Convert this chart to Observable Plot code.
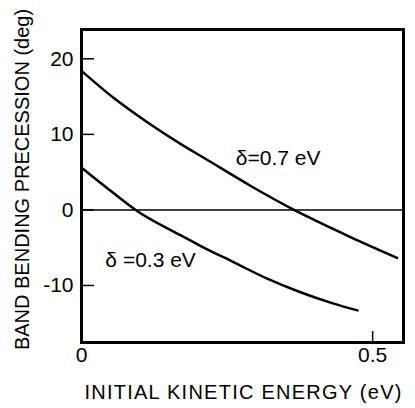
<!DOCTYPE html>
<html>
<head>
<meta charset="utf-8">
<script src="https://cdn.jsdelivr.net/npm/d3@7"></script>
<script src="https://cdn.jsdelivr.net/npm/@observablehq/plot@0.6"></script>
<style>
  html, body { margin: 0; padding: 0; background: white; }
</style>
</head>
<body>
<div id="chart"></div>
<script>
// Upper curve (δ = 0.7 eV)
const energyUpper = [0, 0.0555, 0.113, 0.17, 0.21, 0.29, 0.365, 0.433, 0.462, 0.542];
const precessionUpper = [18.4, 14.8, 11.6, 8.74, 6.9, 3.2, 0, -2.55, -3.6, -6.35];
// Lower curve (δ = 0.3 eV)
const energyLower = [0, 0.0555, 0.093, 0.17, 0.204, 0.262, 0.319, 0.376, 0.433, 0.474];
const precessionLower = [5.6, 2.2, 0, -3.35, -4.75, -6.95, -9.1, -10.9, -12.4, -13.3];

const seriesNames = ["δ=0.7 eV", "δ =0.3 eV"];
const labelX = [0.265, 0.041];
const labelY = [6.8, -6.7];

const yTicks = [-10, 0, 10, 20];
const yTickLabels = ["-10", "0", "10", "20"];
const xTicks = [0, 0.5];
const xTickLabels = ["0", "0.5"];

const xTitle = "INITIAL KINETIC ENERGY (eV)";
const yTitle = "BAND BENDING PRECESSION (deg)";

const rows = [
  ...energyUpper.map((e, i) => ({energy: e, value: precessionUpper[i], series: seriesNames[0]})),
  ...energyLower.map((e, i) => ({energy: e, value: precessionLower[i], series: seriesNames[1]}))
];
const labels = seriesNames.map((s, i) => ({text: s, x: labelX[i], y: labelY[i]}));

const font = "'Liberation Sans', Arial, Helvetica, sans-serif";

const chart = Plot.plot({
  width: 415,
  height: 408,
  marginLeft: 81,
  marginRight: 12,
  marginTop: 29,
  marginBottom: 66,
  style: {fontFamily: font, fontSize: "21px", background: "white", color: "black"},
  x: {domain: [0, 0.553]},
  y: {domain: [-17.55, 23.88]},
  marks: [
    Plot.ruleY([0], {stroke: "black", strokeWidth: 1.5}),
    Plot.line(rows, {x: "energy", y: "value", z: "series", stroke: "black", strokeWidth: 2.5, curve: "monotone-x"}),
    Plot.text(labels, {x: "x", y: "y", text: "text", textAnchor: "start", fontSize: 21, fill: "black"}),
    Plot.axisY({ticks: yTicks, tickFormat: (d) => yTickLabels[yTicks.indexOf(d)], tickSize: -13, tickPadding: 21, strokeWidth: 1.5, fontSize: 21, label: null}),
    Plot.axisX({ticks: xTicks, tickFormat: (d) => xTickLabels[xTicks.indexOf(d)], tickSize: -11, tickPadding: 16, strokeWidth: 1.5, fontSize: 21, label: null}),
    Plot.frame({stroke: "black", strokeWidth: 3}),
    Plot.text([yTitle], {frameAnchor: "left", dx: -59, dy: -6.5, rotate: -90, fontSize: 20, fill: "black", textAnchor: "middle", lineAnchor: "middle"}),
    Plot.text([xTitle], {frameAnchor: "bottom", dx: 1, dy: 50.5, fontSize: 20, fill: "black", textAnchor: "middle", lineAnchor: "middle"})
  ]
});
d3.select(chart).selectAll("text").filter(function() { return this.textContent === xTitle; })
  .attr("letter-spacing", "1.25px");
document.getElementById("chart").appendChild(chart);
</script>
</body>
</html>
